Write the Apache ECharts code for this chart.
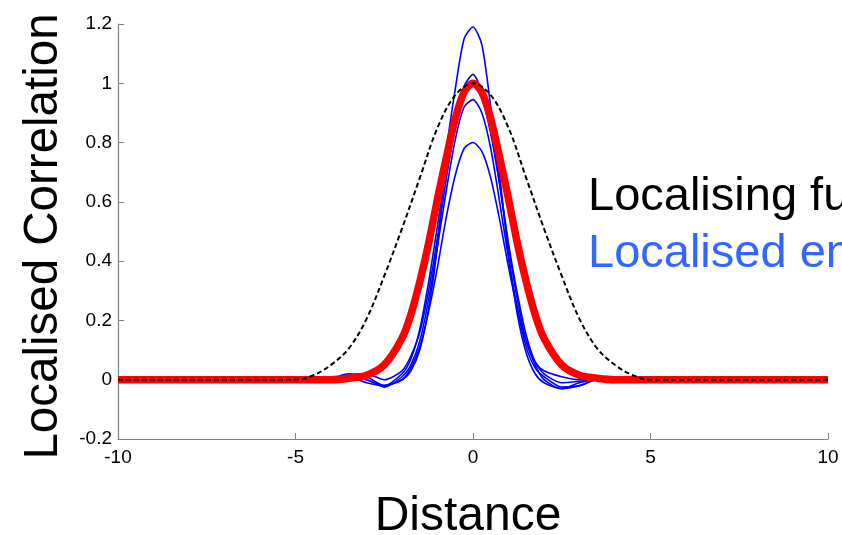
<!DOCTYPE html>
<html>
<head>
<meta charset="utf-8">
<script src="https://cdn.jsdelivr.net/npm/echarts@6/dist/echarts.min.js"></script>
<style>
html,body{margin:0;padding:0;background:#fff;}
#c{width:842px;height:535px;}
</style>
</head>
<body>
<div id="c"></div>
<script>
// ---- data ----
const xTicks = [-10, -5, 0, 5, 10];
const yTicks = [-0.2, 0, 0.2, 0.4, 0.6, 0.8, 1, 1.2];

const xDash = [-10,-5,-4.5,-4,-3.5,-3,-2.5,-2,-1.5,-1,-0.5,0,0.5,1,1.5,2,2.5,3,3.5,4,4.5,5,10];
const localisingFn = [0,0,0.015,0.05,0.105,0.205,0.35,0.51,0.68,0.85,0.96,1.0,0.96,0.85,0.68,0.51,0.35,0.205,0.105,0.05,0.015,0,0];

const xRed = [-10,-4,-3.5,-3,-2.5,-2,-1.75,-1.5,-1.25,-1,-0.75,-0.5,-0.25,0,0.25,0.5,0.75,1,1.25,1.5,1.75,2,2.5,3,3.5,4,10];
const redCurve = [0,0,0.005,0.015,0.05,0.14,0.22,0.33,0.46,0.61,0.75,0.88,0.97,1.0,0.97,0.88,0.75,0.61,0.46,0.33,0.22,0.14,0.05,0.015,0.005,0,0];

const xBlue = [-10,-5,-4,-3.5,-3,-2.5,-2,-1.75,-1.5,-1.25,-1,-0.75,-0.5,-0.25,0,0.25,0.5,0.75,1,1.25,1.5,1.75,2,2.5,3,3.5,4,5,10];
const blue1 = [0,0,0,0.01,0.0,-0.02,0.0,0.03,0.1,0.24,0.45,0.77,0.98,1.15,1.19,1.13,0.92,0.69,0.42,0.22,0.09,0.02,-0.01,-0.03,-0.01,0,0,0,0];
const blue2 = [0,0,0.005,0.02,0.01,-0.02,0.02,0.07,0.17,0.33,0.52,0.72,0.88,0.99,1.03,0.97,0.84,0.66,0.45,0.27,0.13,0.05,0.0,-0.03,-0.02,0,0,0,0];
const blue3 = [0,0,0,0.015,0.02,0.0,0.03,0.08,0.16,0.3,0.48,0.68,0.85,0.96,0.99,0.95,0.83,0.66,0.46,0.29,0.15,0.06,0.02,-0.01,-0.005,0,0,0,0];
const blue4 = [0,0,0,0.005,0.0,-0.025,0.01,0.05,0.13,0.27,0.45,0.64,0.81,0.92,0.945,0.9,0.78,0.6,0.41,0.24,0.11,0.04,0.01,-0.025,-0.02,0,0,0,0];
const blue5 = [0,0,0,0.01,-0.01,-0.02,0.0,0.04,0.11,0.23,0.38,0.55,0.69,0.78,0.8,0.77,0.68,0.54,0.38,0.24,0.13,0.06,0.03,0.01,0.0,0,0,0,0];

const labelFn = 'Localising function';
const labelEns = 'Localised ensemble correlations';
const xName = 'Distance';
const yName = 'Localised Correlation';

// ---- build ----
const zip = (xs, ys) => xs.map((x, i) => [x, ys[i]]);
const FONT = '"Liberation Sans", Arial, Helvetica, sans-serif';
const blueSeries = [blue1, blue2, blue3, blue4, blue5].map((b, i) => ({
  name: 'ens' + i, type: 'line', data: zip(xBlue, b), smooth: 0.25,
  showSymbol: false, lineStyle: { color: '#0000ff', width: 1.6 }, z: 2
}));

const chart = echarts.init(document.getElementById('c'), null, { renderer: 'canvas' });
chart.setOption({
  animation: false,
  backgroundColor: '#ffffff',
  grid: { left: 118, right: 14, top: 24, bottom: 96, containLabel: false, outerBoundsMode: 'none' },
  xAxis: {
    type: 'value', min: xTicks[0], max: xTicks[xTicks.length - 1], interval: 5,
    name: xName, nameLocation: 'middle', nameGap: 54,
    nameTextStyle: { fontFamily: FONT, fontSize: 48, color: '#000', padding: [0, 10, 0, 0] },
    axisLine: { onZero: false, lineStyle: { color: '#808080', width: 1.2 } },
    axisTick: { inside: true, length: 6, lineStyle: { color: '#808080' } },
    axisLabel: { fontFamily: FONT, fontSize: 19, color: '#000', margin: 9 },
    splitLine: { show: false }
  },
  yAxis: {
    type: 'value', min: yTicks[0], max: yTicks[yTicks.length - 1], interval: 0.2,
    name: yName, nameLocation: 'middle', nameGap: 50, nameRotate: 90,
    nameTextStyle: { fontFamily: FONT, fontSize: 47.5, color: '#000', padding: [0, 10, 0, 0] },
    axisLine: { show: true, onZero: false, lineStyle: { color: '#808080', width: 1.2 } },
    axisTick: { show: true, inside: true, length: 6, lineStyle: { color: '#808080' } },
    axisLabel: { fontFamily: FONT, fontSize: 19, color: '#000', margin: 6,
      formatter: v => String(+v.toFixed(1)) },
    splitLine: { show: false }
  },
  series: blueSeries.concat([
    { name: 'red', type: 'line', data: zip(xRed, redCurve), smooth: 0.3, showSymbol: false,
      lineStyle: { color: '#ff0000', width: 7.5 }, z: 3 },
    { name: 'dash', type: 'line', data: zip(xDash, localisingFn), smooth: 0.35, showSymbol: false,
      lineStyle: { color: '#000000', width: 2, type: [5, 3] }, z: 4 }
  ]),
  graphic: [
    { type: 'text', x: 588, y: 197, style: { text: labelFn, fontFamily: FONT, fontSize: 47, fill: '#000', verticalAlign: 'middle' } },
    { type: 'text', x: 588, y: 254, style: { text: labelEns, fontFamily: FONT, fontSize: 47, fill: '#3366ff', verticalAlign: 'middle' } }
  ]
});
</script>
</body>
</html>
